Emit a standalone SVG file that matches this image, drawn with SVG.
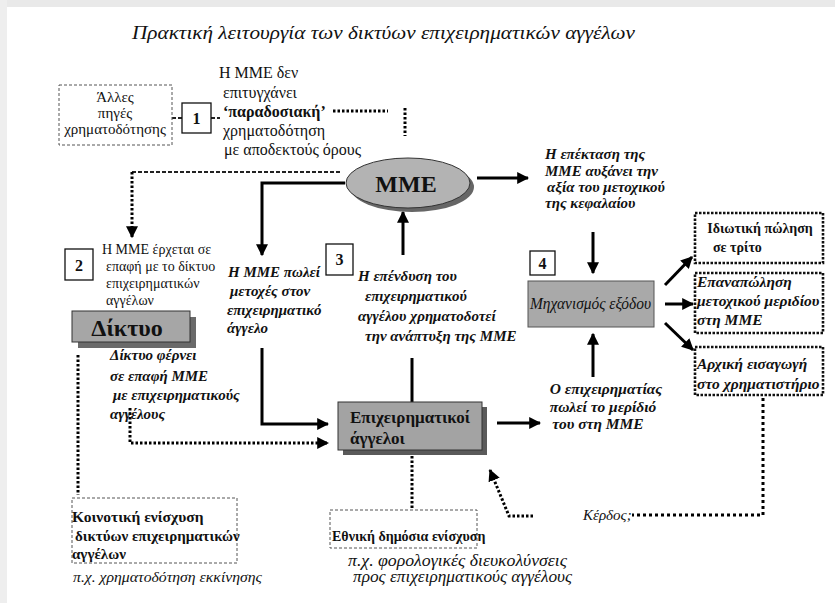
<svg xmlns="http://www.w3.org/2000/svg" width="835" height="603" viewBox="0 0 835 603" font-family="'Liberation Serif', 'Times New Roman', 'DejaVu Serif', serif">
<defs>
<marker id="ah" viewBox="0 0 10 10" refX="9" refY="5" markerWidth="12" markerHeight="12" markerUnits="userSpaceOnUse" orient="auto"><path d="M0,0 L10,5 L0,10 z" fill="#000"/></marker>
</defs>
<style>
text{font-family:'Liberation Serif','Times New Roman','DejaVu Serif',serif;fill:#111}
.r{font-size:16px}
.bi{font-size:15px;font-weight:bold;font-style:italic}
.bir{font-size:15.5px;font-weight:bold;font-style:italic}
.b{font-weight:bold}
.num{font-size:16px;font-weight:bold;text-anchor:middle}
.nbox{fill:#fff;stroke:#111;stroke-width:1.3}
.thin{fill:#fff;stroke:#555;stroke-width:1;stroke-dasharray:3 2}
.dot{fill:#fff;stroke:#111;stroke-width:2.6;stroke-dasharray:2.5 1.5}
.sol{fill:none;stroke:#000;stroke-width:3}
.dl{fill:none;stroke:#000;stroke-width:3;stroke-dasharray:2.5 2}
.dsh{fill:none;stroke:#222;stroke-width:2;stroke-dasharray:4 2}
.arr{marker-end:url(#ah)}
</style>
<rect x="0" y="0" width="835" height="603" fill="#fff"/>
<rect x="0" y="0" width="835" height="7" fill="#e9e9e9"/>
<rect x="0" y="0" width="7" height="603" fill="#eeeeee"/>

<text x="132" y="39" font-size="18" font-style="italic" textLength="503" lengthAdjust="spacingAndGlyphs">Πρακτική λειτουργία των δικτύων επιχειρηματικών  αγγέλων</text>

<g id="connectors">
<path class="dsh" d="M172,118 H182 M211,118 H220"/>
<path class="dl" d="M333,111 H388"/>
<path class="dl" d="M405,108 V136"/>
<path class="dsh" d="M132,172 H342"/>
<path class="dl arr" d="M132,172 V237"/>
<path class="sol arr" d="M345,183 H262 V255"/>
<path class="sol arr" d="M403,255 V212"/>
<path class="sol arr" d="M477,178 H528"/>
<path class="sol arr" d="M593,232 V273"/>
<path class="sol arr" d="M593,377 V334"/>
<path class="sol arr" d="M665,285 L692,257"/>
<path class="sol arr" d="M665,304 H693"/>
<path class="sol arr" d="M665,323 L693,350"/>
<path class="sol" d="M412,358 V402"/>
<path class="sol arr" d="M262,348 V424 H328"/>
<path class="dl arr" d="M130,408 V443 H328"/>
<path class="dl" d="M78,355 V495"/>
<path class="sol arr" d="M497,423 H540"/>
<path class="dl" d="M412,456 V510"/>
<path d="M763,398 V515 H632" fill="none" stroke="#000" stroke-width="3" stroke-dasharray="3 3"/>
<path class="dl arr" d="M533,516 H509 L490,470"/>
</g>

<g id="alles">
<rect class="thin" x="59" y="85" width="113" height="60"/>
<text x="115" y="102" font-size="15" text-anchor="middle">Άλλες</text>
<text x="115" y="118" font-size="15" text-anchor="middle">πηγές</text>
<text x="115" y="134" font-size="15" text-anchor="middle">χρηματοδότησης</text>
</g>

<g id="n1">
<rect class="nbox" x="182" y="103" width="29" height="30"/>
<text class="num" x="196.5" y="124">1</text>
</g>

<g id="t1">
<text class="r" x="219" y="78">Η ΜΜΕ δεν</text>
<text class="r" x="223" y="98">επιτυγχάνει</text>
<text class="r b" x="223" y="117">‘παραδοσιακή’</text>
<text class="r" x="223" y="136">χρηματοδότηση</text>
<text class="r" x="224" y="155">με αποδεκτούς όρους</text>
</g>

<g id="mme">
<ellipse cx="412" cy="187" rx="62" ry="25" fill="#666"/>
<ellipse cx="408" cy="183" rx="62" ry="25" fill="#b3b3b3" stroke="#333" stroke-width="1"/>
<text x="406" y="192" font-size="24" font-weight="bold" text-anchor="middle">MME</text>
</g>

<g id="t-expansion">
<text class="bi" x="545" y="159">Η επέκταση της</text>
<text class="bi" x="545" y="176">ΜΜΕ αυξάνει την</text>
<text class="bi" x="547" y="192">αξία του μετοχικού</text>
<text class="bi" x="545" y="208">της κεφαλαίου</text>
</g>

<g id="n2">
<rect class="nbox" x="65" y="249" width="28" height="31"/>
<text class="num" x="79" y="271">2</text>
</g>

<g id="t2">
<text x="102" y="254" font-size="14">Η ΜΜΕ έρχεται σε</text>
<text x="106" y="271" font-size="14">επαφή με το δίκτυο</text>
<text x="106" y="288" font-size="14">επιχειρηματικών</text>
<text x="106" y="305" font-size="14">αγγέλων</text>
</g>

<g id="diktyo">
<rect x="78" y="317" width="118" height="31" fill="#6a6a6a"/>
<rect x="72" y="311" width="118" height="31" fill="#a6a6a6" stroke="#333" stroke-width="1"/>
<text x="127" y="336" font-size="24" font-weight="bold" text-anchor="middle">Δίκτυο</text>
</g>

<g id="t-diktyo">
<text class="bi" x="110" y="360">Δίκτυο φέρνει</text>
<text class="bi" x="110" y="381">σε επαφή ΜΜΕ</text>
<text class="bi" x="113" y="400">με επιχειρηματικούς</text>
<text class="bi" x="110" y="419">αγγέλους</text>
</g>

<g id="t-sells">
<text class="bi" x="228" y="277">Η ΜΜΕ πωλεί</text>
<text class="bi" x="230" y="296">μετοχές στον</text>
<text class="bi" x="227" y="315">επιχειρηματικό</text>
<text class="bi" x="227" y="333">άγγελο</text>
</g>

<g id="n3">
<rect class="nbox" x="326" y="244" width="27" height="31"/>
<text class="num" x="339.5" y="265">3</text>
</g>

<g id="t-invest">
<text class="bi" x="358" y="281">Η επένδυση του</text>
<text class="bi" x="365" y="301">επιχειρηματικού</text>
<text class="bi" x="358" y="321">αγγέλου χρηματοδοτεί</text>
<text class="bi" x="365" y="341">την ανάπτυξη της ΜΜΕ</text>
</g>

<g id="n4">
<rect class="nbox" x="530" y="251" width="25" height="24"/>
<text class="num" x="542.5" y="269">4</text>
</g>

<g id="exit">
<rect x="528" y="281" width="126" height="46" fill="#a9a9a9" stroke="#555" stroke-width="1"/>
<text x="530" y="309" font-size="16" font-style="italic" textLength="121" lengthAdjust="spacingAndGlyphs">Μηχανισμός εξόδου</text>
</g>

<g id="private">
<rect class="dot" x="695" y="213" width="128" height="50"/>
<text x="760" y="233" font-size="14" font-weight="bold" text-anchor="middle">Ιδιωτική πώληση</text>
<text x="713" y="252" font-size="14" font-weight="bold">σε τρίτο</text>
</g>

<g id="resale">
<rect class="dot" x="695" y="273" width="128" height="60"/>
<text class="bir" x="697" y="287">Επαναπώληση</text>
<text class="bir" x="697" y="306">μετοχικού μεριδίου</text>
<text class="bir" x="697" y="325">στη ΜΜΕ</text>
</g>

<g id="ipo">
<rect class="dot" x="695" y="347" width="128" height="48"/>
<text class="bir" x="697" y="369">Αρχική εισαγωγή</text>
<text class="bir" x="697" y="389">στο χρηματιστήριο</text>
</g>

<g id="t-entrepreneur">
<text class="bir" x="606" y="394" text-anchor="middle">Ο επιχειρηματίας</text>
<text class="bir" x="603" y="412" text-anchor="middle">πωλεί το μερίδιό</text>
<text class="bir" x="598" y="429" text-anchor="middle">του στη ΜΜΕ</text>
</g>

<g id="angels">
<rect x="343" y="407" width="144" height="48" fill="#5a5a5a"/>
<rect x="338" y="402" width="144" height="48" fill="#a3a3a3" stroke="#333" stroke-width="1"/>
<text x="350" y="423" font-size="17" font-weight="bold">Επιχειρηματικοί</text>
<text x="350" y="444" font-size="17" font-weight="bold">άγγελοι</text>
</g>

<g id="kerdos">
<text x="583" y="520" font-size="15" font-style="italic">Κέρδος;</text>
</g>

<g id="community">
<rect class="thin" x="72" y="498" width="165" height="65"/>
<text x="72" y="522" font-size="15.5" font-weight="bold">Κοινοτική ενίσχυση</text>
<text x="75" y="541" font-size="15" font-weight="bold">δικτύων επιχειρηματικών</text>
<text x="72" y="559" font-size="15" font-weight="bold">αγγέλων</text>
<text x="73" y="582" font-size="15.5" font-style="italic" textLength="189" lengthAdjust="spacingAndGlyphs">π.χ. χρηματοδότηση εκκίνησης</text>
</g>

<g id="national">
<rect class="thin" x="330" y="510" width="147" height="38"/>
<text x="332" y="541" font-size="14" font-weight="bold">Εθνική δημόσια ενίσχυση</text>
<text x="348" y="566" font-size="16" font-style="italic" textLength="219" lengthAdjust="spacingAndGlyphs">π.χ. φορολογικές διευκολύνσεις</text>
<text x="353" y="582" font-size="16" font-style="italic" textLength="219" lengthAdjust="spacingAndGlyphs">προς επιχειρηματικούς αγγέλους</text>
</g>
</svg>
